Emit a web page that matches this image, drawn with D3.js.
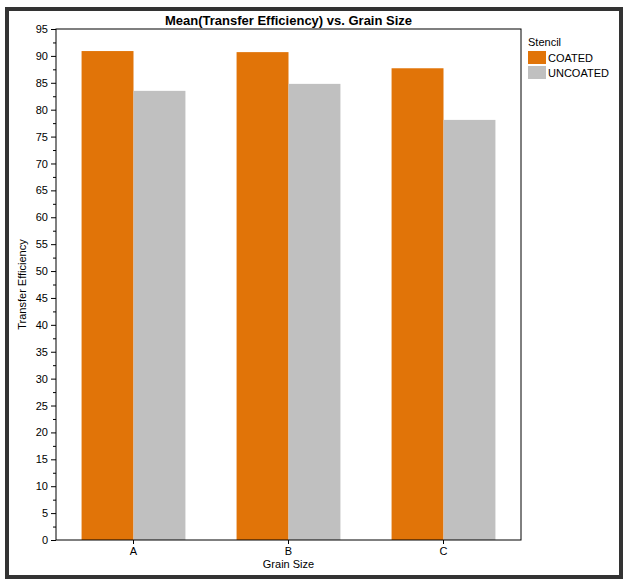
<!DOCTYPE html><html><head><meta charset="utf-8"><script src="https://cdn.jsdelivr.net/npm/d3@7"></script>
<style>body{margin:0;background:#fff}text{font-family:Arial,"Liberation Sans",sans-serif}</style></head><body>
<svg id="c" width="629" height="582"></svg>
<script>
const categories=["A","B","C"];
const series=["COATED","UNCOATED"];
const coated=[90.9,90.7,87.7];
const uncoated=[83.5,84.8,78.1];
const colors=["#E17408","#C0C0C0"];
const yTicks=d3.range(0,96,5);
const svg=d3.select("#c");
svg.append("rect").attr("x",7).attr("y",9).attr("width",614).attr("height",568).attr("fill","none").attr("stroke","#333").attr("stroke-width",4);
const L=56,R=521,T=29,B=540;
const x=d3.scaleBand().domain(categories).range([L,R]).paddingInner(0.33).paddingOuter(0.165);
const xs=d3.scaleBand().domain(series).range([0,x.bandwidth()]);
const y=d3.scaleLinear().domain([0,95]).range([B,T]);
const vals=[coated,uncoated];
categories.forEach((c,i)=>{series.forEach((s,j)=>{
 svg.append("rect").attr("x",x(c)+xs(s)).attr("width",xs.bandwidth()).attr("y",y(vals[j][i])).attr("height",B-y(vals[j][i])).attr("fill",colors[j]);
});});
svg.append("rect").attr("x",L).attr("y",T).attr("width",R-L).attr("height",B-T).attr("fill","none").attr("stroke","#000");
const ya=svg.append("g").attr("transform",`translate(${L},0)`).call(d3.axisLeft(y).tickValues(yTicks).tickSize(5).tickSizeOuter(0));
ya.selectAll("text").attr("font-size",11).attr("fill","#000");
ya.select(".domain").remove();
svg.append("g").attr("transform",`translate(${L},0)`).call(d3.axisLeft(y).tickValues(d3.range(2.5,95,5)).tickSize(3).tickFormat("").tickSizeOuter(0)).select(".domain").remove();
const xa=svg.append("g").attr("transform",`translate(0,${B})`).call(d3.axisBottom(x).tickSize(4).tickSizeOuter(0));
xa.select(".domain").remove();xa.selectAll("text").attr("font-size",11).attr("fill","#000");
svg.append("text").attr("x",(L+R)/2).attr("y",568).attr("text-anchor","middle").attr("font-size",11).text("Grain Size");
svg.append("text").attr("transform",`translate(26,${(T+B)/2}) rotate(-90)`).attr("text-anchor","middle").attr("font-size",11).text("Transfer Efficiency");
svg.append("text").attr("x",(L+R)/2).attr("y",25).attr("text-anchor","middle").attr("font-size",13).attr("font-weight","bold").text("Mean(Transfer Efficiency) vs. Grain Size");
svg.append("text").attr("x",528).attr("y",46).attr("font-size",11).text("Stencil");
series.forEach((s,j)=>{
 svg.append("rect").attr("x",528).attr("y",51+j*15).attr("width",18).attr("height",13).attr("fill",colors[j]);
 svg.append("text").attr("x",548).attr("y",62+j*15).attr("font-size",11).text(s);
});
</script></body></html>
